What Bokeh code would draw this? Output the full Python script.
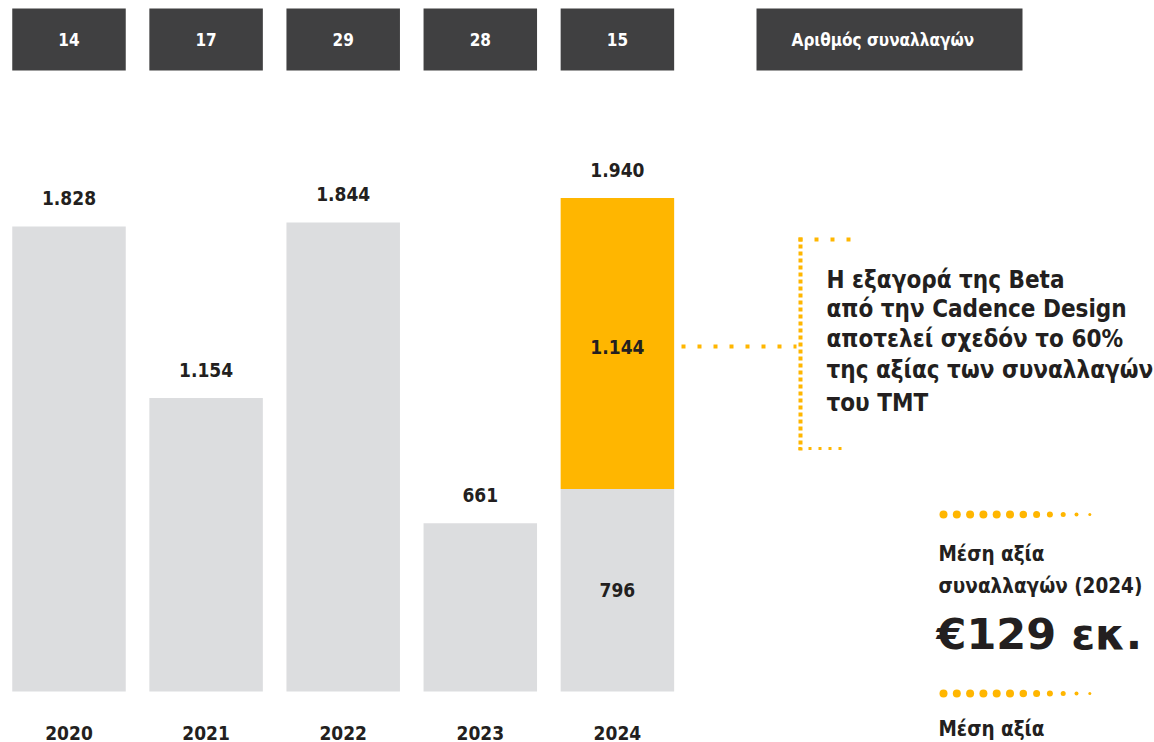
from bokeh.plotting import figure
from bokeh.models import Range1d
from bokeh.core.properties import value
from bokeh.embed import file_html
from bokeh.resources import INLINE

# ---------------- data ----------------
years = ["2020", "2021", "2022", "2023", "2024"]
base_values = [1828, 1154, 1844, 661, 796]      # € m, grey part
beta_values = [0, 0, 0, 0, 1144]                # € m, Beta / Cadence Design deal
totals = [1828, 1154, 1844, 661, 1940]
deal_counts = [14, 17, 29, 28, 15]
count_title = "Αριθμός  συναλλαγών"
note_lines = [
    "Η εξαγορά της Beta",
    "από την Cadence Design",
    "αποτελεί σχεδόν το 60%",
    "της αξίας των συναλλαγών",
    "του TMT",
]
avg_label_lines = ["Μέση αξία", "συναλλαγών (2024)"]
avg_value_text = "€129 εκ."
second_label = "Μέση αξία"

# ---------------- styling / layout ----------------
W, H = 1154, 742
PX_CAT = 137.1          # px per category
PX_UNIT = 0.2544        # px per € m
ZERO_PX = 691           # px of y = 0 from top
XS = -68.5 / PX_CAT
XE = XS + W / PX_CAT
YS = -(H - ZERO_PX) / PX_UNIT
YE = ZERO_PX / PX_UNIT
BAR_W = 113.5 / PX_CAT

GREY = "#DCDDDF"
GOLD = "#FFB600"
DARK = "#404041"
INK = "#231F20"
FONT = value("DejaVu Sans Condensed")
BIG_FONT = value("DejaVu Sans")


def dx(px):
    return XS + px / PX_CAT


def dy(py):
    return (ZERO_PX - py) / PX_UNIT


def fmt(v):
    return f"{v:,}".replace(",", ".")


idx = list(range(len(years)))

p = figure(width=W, height=H, x_range=Range1d(XS, XE), y_range=Range1d(YS, YE),
           output_backend="svg", toolbar_location=None, min_border=0,
           x_axis_type=None, y_axis_type=None)
p.grid.visible = False
p.outline_line_color = None
p.background_fill_color = "white"
p.border_fill_color = "white"

# bars
p.vbar(x=idx, bottom=0, top=base_values, width=BAR_W, fill_color=GREY, line_color=None)
gx = [i for i in idx if beta_values[i] > 0]
p.vbar(x=gx, bottom=[base_values[i] for i in gx], top=[totals[i] for i in gx],
       width=BAR_W, fill_color=GOLD, line_color=None)

# value labels
p.text(x=idx, y=totals, text=[fmt(v) for v in totals], y_offset=-28,
       text_align="center", text_baseline="middle", text_font=FONT,
       text_font_style="bold", text_font_size="19px", text_color=INK)
p.text(x=gx, y=[base_values[i] + beta_values[i] / 2 for i in gx],
       text=[fmt(beta_values[i]) for i in gx], y_offset=4,
       text_align="center", text_baseline="middle", text_font=FONT,
       text_font_style="bold", text_font_size="19px", text_color=INK)
p.text(x=gx, y=[base_values[i] / 2 for i in gx], text=[fmt(base_values[i]) for i in gx],
       text_align="center", text_baseline="middle", text_font=FONT,
       text_font_style="bold", text_font_size="19px", text_color=INK)

# year labels
p.text(x=idx, y=[0] * len(idx), text=years, y_offset=41,
       text_align="center", text_baseline="middle", text_font=FONT,
       text_font_style="bold", text_font_size="19px", text_color=INK)

# deal count boxes
p.quad(left=[i - BAR_W / 2 for i in idx], right=[i + BAR_W / 2 for i in idx],
       top=dy(8), bottom=dy(70), fill_color=DARK, line_color=None)
p.text(x=idx, y=[dy(39)] * len(idx), text=[str(c) for c in deal_counts],
       text_align="center", text_baseline="middle", text_font=FONT,
       text_font_style="bold", text_font_size="17px", text_color="white")
p.quad(left=[dx(756)], right=[dx(1022)], top=[dy(8)], bottom=[dy(70)],
       fill_color=DARK, line_color=None)
p.text(x=[dx(885)], y=[dy(39)], text=[count_title],
       text_align="center", text_baseline="middle", text_font=FONT,
       text_font_style="bold", text_font_size="17px", text_color="white")

# dotted connector / bracket
p.line(x=[dx(681), dx(796)], y=[dy(346)] * 2, line_color=GOLD, line_width=4, line_dash="4 12")
p.line(x=[dx(800), dx(800)], y=[dy(237), dy(450)], line_color=GOLD, line_width=4, line_dash="4 3")
p.line(x=[dx(798), dx(850)], y=[dy(239)] * 2, line_color=GOLD, line_width=4, line_dash="4 12")
p.line(x=[dx(798), dx(847)], y=[dy(448)] * 2, line_color=GOLD, line_width=3, line_dash="3 7")

# note text
note_y = [279, 308, 338, 369, 402]
p.text(x=[dx(826)] * len(note_lines), y=[dy(v) for v in note_y], text=note_lines,
       text_align="left", text_baseline="middle", text_font=FONT,
       text_font_style="bold", text_font_size="24px", text_color=INK)

# average value block
dot_sizes = [8, 8, 8, 8, 8, 8, 7.5, 7, 6, 5, 4, 3]
dot_x = [dx(943 + 13.3 * k) for k in range(len(dot_sizes))]
for row_y in (514, 693):
    p.scatter(x=dot_x, y=[dy(row_y)] * len(dot_x), size=dot_sizes, marker="circle",
              fill_color=GOLD, line_color=None)

p.text(x=[dx(938)] * 2, y=[dy(553), dy(585)], text=avg_label_lines,
       text_align="left", text_baseline="middle", text_font=FONT,
       text_font_style="bold", text_font_size="20.5px", text_color=INK)
p.text(x=[dx(936)], y=[dy(633)], text=[avg_value_text],
       text_align="left", text_baseline="middle", text_font=BIG_FONT,
       text_font_style="bold", text_font_size="43px", text_color=INK)
p.text(x=[dx(938)], y=[dy(728)], text=[second_label],
       text_align="left", text_baseline="middle", text_font=FONT,
       text_font_style="bold", text_font_size="20.5px", text_color=INK)

open("out.html", "w").write(file_html(p, INLINE))
